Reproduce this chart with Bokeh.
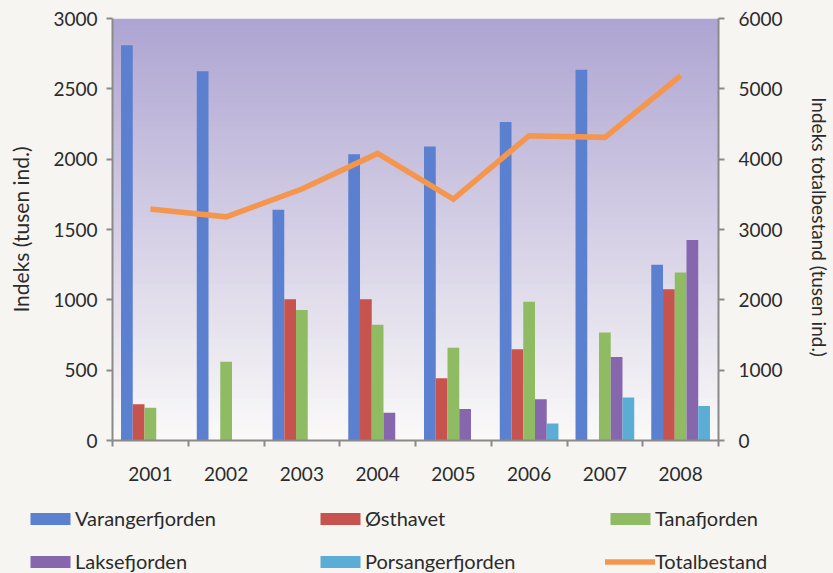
from bokeh.plotting import figure
from bokeh.models import (Range1d, LinearAxis, FixedTicker, Legend, LegendItem,
                          BoxAnnotation, ColumnDataSource)
from bokeh.embed import file_html
from bokeh.resources import INLINE

years = ["2001", "2002", "2003", "2004", "2005", "2006", "2007", "2008"]
varangerfjorden = [2810, 2625, 1640, 2035, 2090, 2265, 2635, 1250]
osthavet = [258, 0, 1005, 1005, 443, 649, 0, 1076]
tanafjorden = [233, 559, 927, 822, 660, 986, 767, 1194]
laksefjorden = [0, 0, 0, 198, 224, 293, 594, 1425]
porsangerfjorden = [0, 0, 0, 0, 0, 120, 305, 245]
totalbestand = [3290, 3180, 3575, 4082, 3433, 4334, 4310, 5188]

series = [
    ("Varangerfjorden", varangerfjorden, "#5b80cf"),
    ("Østhavet", osthavet, "#c7534f"),
    ("Tanafjorden", tanafjorden, "#8fbc62"),
    ("Laksefjorden", laksefjorden, "#8667ad"),
    ("Porsangerfjorden", porsangerfjorden, "#5badd6"),
]
line_color = "#f5964f"

FONT = "Lato"
TXT = "#2b2b2b"
AX = "#8a8a8a"
PAGE = "#f6f5f2"

p = figure(width=833, height=490, output_backend="svg", toolbar_location=None,
           x_range=Range1d(0, len(years)), y_range=Range1d(0, 3000),
           min_border_left=112, min_border_right=114, min_border_top=18,
           min_border_bottom=50)
p.extra_y_ranges = {"total": Range1d(0, 6000)}
p.border_fill_color = PAGE
p.background_fill_color = "#faf9f8"
p.outline_line_color = None
p.grid.visible = False

# gradient background (style only)
top_c = (174, 165, 210)
bot_c = (250, 249, 248)
nb = 70
ymin, ymax = p.y_range.start, p.y_range.end
step = (ymax - ymin) / nb
for i in range(nb):
    t = i / (nb - 1)
    c = tuple(int(round(bot_c[k] + (top_c[k] - bot_c[k]) * t)) for k in range(3))
    b0 = ymin + step * i
    b1 = min(ymax, b0 + step * 1.6)
    p.add_layout(BoxAnnotation(bottom=b0, top=b1, fill_color="#%02x%02x%02x" % c,
                               fill_alpha=1, line_alpha=0, level="underlay"))

bw = 0.155
xc = [i + 0.5 for i in range(len(years))]
for k, (name, vals, col) in enumerate(series):
    src = ColumnDataSource(dict(x=[x + (k - 2) * bw for x in xc], top=vals))
    p.vbar(x="x", top="top", width=bw, source=src, fill_color=col, line_color=None)

lsrc = ColumnDataSource(dict(x=xc, y=totalbestand))
p.line(x="x", y="y", source=lsrc, y_range_name="total", line_color=line_color,
       line_width=5.5, line_join="miter")

# x axis: labels at centers, tick marks at category boundaries (minor ticks)
xa = p.xaxis[0]
xa.ticker = FixedTicker(ticks=xc, minor_ticks=list(range(len(years) + 1)))
xa.major_label_overrides = {x: y for x, y in zip(xc, years)}
xa.major_tick_out = 0
xa.major_tick_in = 0
xa.minor_tick_out = 6
xa.minor_tick_in = 0
xa.minor_tick_line_color = AX
xa.minor_tick_line_width = 2
xa.major_label_standoff = 20
xa.axis_line_color = AX
xa.axis_line_width = 2

ya = p.yaxis[0]
ya.ticker = FixedTicker(ticks=[0, 500, 1000, 1500, 2000, 2500, 3000])
ya.axis_label = "Indeks (tusen ind.)"
ya.major_label_standoff = 9

ra = LinearAxis(y_range_name="total",
                ticker=FixedTicker(ticks=[0, 1000, 2000, 3000, 4000, 5000, 6000]),
                axis_label="Indeks totalbestand  (tusen ind.)")
p.add_layout(ra, "right")
ra.major_label_standoff = 14

for ax in (ya, ra):
    ax.major_tick_out = 6
    ax.major_tick_in = 0
    ax.minor_tick_out = 0
    ax.minor_tick_in = 0
    ax.axis_line_color = AX
    ax.axis_line_width = 2
    ax.major_tick_line_color = AX
    ax.major_tick_line_width = 2
    ax.axis_label_text_font = FONT
    ax.axis_label_text_font_style = "normal"
    ax.axis_label_text_color = TXT
ya.axis_label_text_font_size = "21px"
ra.axis_label_text_font_size = "19px"
ya.axis_label_standoff = 17
ra.axis_label_standoff = 22

for ax in (xa, ya, ra):
    ax.major_label_text_font = FONT
    ax.major_label_text_font_size = "19px"
    ax.major_label_text_color = TXT

# legend in its own strip below the chart
p2 = figure(width=833, height=83, output_backend="svg", toolbar_location=None,
            x_range=Range1d(0, 1), y_range=Range1d(0, 1),
            x_axis_type=None, y_axis_type=None,
            min_border_left=0, min_border_right=0, min_border_top=0,
            min_border_bottom=0)
p2.border_fill_color = PAGE
p2.background_fill_color = PAGE
p2.outline_line_color = None
p2.grid.visible = False

# legend-only renderers (zero-size, outside the visible range)
items = []
for name, vals, col in series:
    r = p2.vbar(x=[-5], top=[0], bottom=[0], width=bw, fill_color=col,
                line_color=None)
    items.append(LegendItem(label=name, renderers=[r]))
lr2 = p2.line(x=[-6, -5], y=[-5, -5], line_color=line_color, line_width=5.5,
              line_cap="round")
items.append(LegendItem(label="Totalbestand", renderers=[lr2]))

legend = Legend(items=items, ncols=3, orientation="horizontal", location=(25, 0))
legend.glyph_width = 50
legend.glyph_height = 15
legend.label_standoff = 0
legend.label_width = 221
legend.label_height = 24
legend.spacing = 19
legend.padding = 0
legend.margin = 0
legend.border_line_alpha = 0
legend.background_fill_alpha = 0
legend.label_text_font = FONT
legend.label_text_font_size = "20px"
legend.label_text_color = TXT
p2.add_layout(legend, "center")

html = file_html([p, p2], INLINE)
html = html.replace("</head>",
                    "<style>html, body { background: #f6f5f2; }</style></head>", 1)
open("out.html", "w").write(html)
